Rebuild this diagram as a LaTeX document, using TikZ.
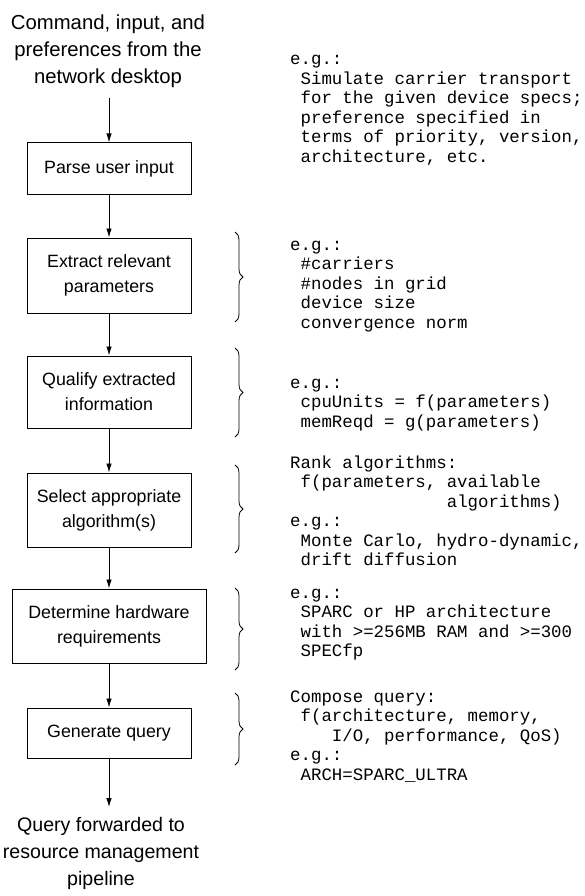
\documentclass[tikz,border=0pt]{standalone}
\usepackage{fontspec}
\setmainfont{Liberation Sans}
\setmonofont{Liberation Mono}
\usetikzlibrary{arrows.meta,decorations.pathreplacing}
\tikzset{procbox/.style={
		draw,
		line width=1pt,
		minimum width=164pt,
		inner sep=0pt,
		align=center,
		font=\fontsize{17.8}{25}\selectfont},
	endtext/.style={align=center, inner sep=0pt, font=\fontsize{20.3}{27}\selectfont},
	note/.style={anchor=base west, align=left, inner sep=0pt, font=\ttfamily\fontsize{17.4}{19.5}\selectfont},
	flow/.style={-{Latex[length=9pt,width=5.5pt]}, line width=0.9pt},
	curly/.style={decorate, decoration={brace, amplitude=8pt}, line width=0.8pt}}
\newcommand{\ind}[1]{\hphantom{#1}}

\begin{document}
\begin{tikzpicture}[x=1pt,y=-1pt]
	\useasboundingbox (0,0) rectangle (585,896);
	\node[endtext] (source) at (108,51) {Command, input, and\\preferences from the\\network desktop};
	\coordinate (in) at (109,98);
	\node[procbox, minimum height=51pt] (parse) at (109,168.5) {Parse user input};
	\node[procbox, minimum height=75pt] (extract) at (109,275.5) {Extract relevant\\parameters};
	\node[procbox, minimum height=72pt] (qualify) at (109,392) {Qualify extracted\\information};
	\node[procbox, minimum height=74pt] (select) at (109,510) {Select appropriate\\algorithm(s)};
	\node[procbox, minimum height=74pt, minimum width=194pt] (hardware) at (109,626) {Determine hardware\\requirements};
	\node[procbox, minimum height=50pt] (query) at (109,733) {Generate query};
	\coordinate (out) at (109,807);
	\node[endtext, font=\fontsize{19.6}{27}\selectfont] (sink) at (101,853.5) {Query forwarded to\\resource management\\pipeline};
	
	\draw[flow] (in) -- (parse);
	\draw[flow] (parse) -- (extract);
	\draw[flow] (extract) -- (qualify);
	\draw[flow] (qualify) -- (select);
	\draw[flow] (select) -- (hardware);
	\draw[flow] (hardware) -- (query);
	\draw[flow] (query) -- (out);
	
	\draw[curly] (235,232) -- (235,322);
	\draw[curly] (235,348) -- (235,437);
	\draw[curly] (235,465) -- (235,553);
	\draw[curly] (235,588) -- (235,670);
	\draw[curly] (235,693) -- (235,765);
	
	% base anchor sits on the last line
	\node[note] (ex1) at (290,162.5) {e.g.:\\\ind{x}Simulate carrier transport\\\ind{x}for the given device specs;\\\ind{x}preference specified in\\\ind{x}terms of priority, version,\\\ind{x}architecture, etc.};
	\node[note] (ex2) at (290,328) {e.g.:\\\ind{x}\#carriers\\\ind{x}\#nodes in grid\\\ind{x}device size\\\ind{x}convergence norm};
	\node[note] (ex3) at (290,427) {e.g.:\\\ind{x}cpuUnits = f(parameters)\\\ind{x}memReqd = g(parameters)};
	\node[note] (ex4) at (290,565.5) {Rank algorithms:\\\ind{x}f(parameters, available\\\ind{xxxxxxxxxxxxxxx}algorithms)\\e.g.:\\\ind{x}Monte Carlo, hydro-dynamic,\\\ind{x}drift diffusion};
	\node[note] (ex5) at (290,656.5) {e.g.:\\\ind{x}SPARC or HP architecture\\\ind{x}with >=256MB RAM and >=300\\\ind{x}SPECfp};
	\node[note] (ex6) at (290,780) {Compose query:\\\ind{x}f(architecture, memory,\\\ind{xxxx}I/O, performance, QoS)\\e.g.:\\\ind{x}ARCH=SPARC\_ULTRA};
\end{tikzpicture}
\end{document}
